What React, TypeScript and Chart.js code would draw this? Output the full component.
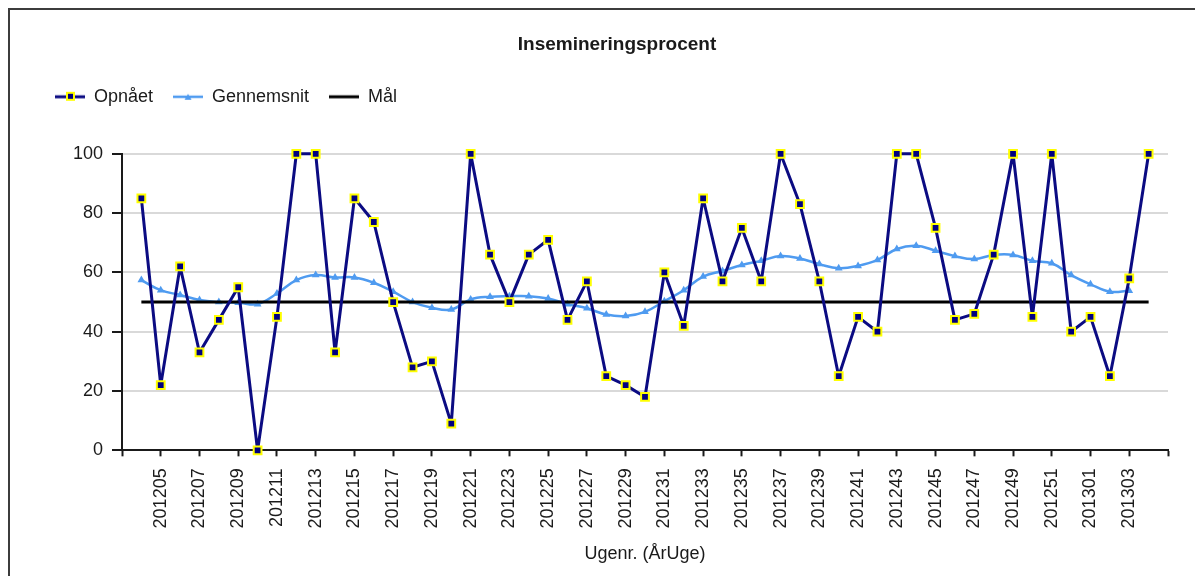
import React, { useEffect, useRef } from 'react';
import { Chart, registerables } from 'chart.js';

Chart.register(...registerables);

// ISO week codes (ÅrUge) of the plotted points
const categories = [
  '201204', '201205', '201206', '201207', '201208', '201209', '201210', '201211', '201212', '201213',
  '201214', '201215', '201216', '201217', '201218', '201219', '201220', '201221', '201222', '201223',
  '201224', '201225', '201226', '201227', '201228', '201229', '201230', '201231', '201232', '201233',
  '201234', '201235', '201236', '201237', '201238', '201239', '201240', '201241', '201242', '201243',
  '201244', '201245', '201246', '201247', '201248', '201249', '201250', '201251', '201252', '201301',
  '201302', '201303', '201304',
];

// Opnået (achieved insemination %)
const opnaaet = [
  85, 22, 62, 33, 44, 55, 0, 45, 100, 100,
  33, 85, 77, 50, 28, 30, 9, 100, 66, 50,
  66, 71, 44, 57, 25, 22, 18, 60, 42, 85,
  57, 75, 57, 100, 83, 57, 25, 45, 40, 100,
  100, 75, 44, 46, 66, 100, 45, 100, 40, 45,
  25, 58, 100,
];

// Gennemsnit (running average), last week has no value
const gennemsnit = [
  57.4, 54, 52.4, 50.7, 50, 49.8, 49.3, 52.9, 57.4, 59.1,
  58.3, 58.3, 56.5, 53.5, 50, 48.1, 47.5, 50.9, 51.8, 52,
  52, 51.2, 49.3, 47.9, 45.8, 45.3, 46.7, 50.3, 54, 58.6,
  60.5, 62.5, 63.9, 65.5, 64.7, 62.8, 61.4, 62.2, 64.2, 67.9,
  69, 67.3, 65.5, 64.5, 65.9, 65.9, 63.9, 63.1, 59.1, 56,
  53.5, 53.8,
];

// Mål (target)
const maalValue = 50;

const yTicks = [0, 20, 40, 60, 80, 100];

const titleText = 'Insemineringsprocent';
const xTitleText = 'Ugenr. (ÅrUge)';
const seriesLabels = ['Opnået', 'Gennemsnit', 'Mål'];

const FONT = '"Liberation Sans", Arial, Helvetica, sans-serif';
const NAVY = '#0b0b82';
const LIGHT = '#4f9bf0';

function makeIcon(kind: number): HTMLCanvasElement {
  const c = document.createElement('canvas');
  c.width = 30;
  c.height = 12;
  const g = c.getContext('2d')!;
  const cy = 6;
  if (kind === 0) {
    g.strokeStyle = NAVY;
    g.lineWidth = 3;
    g.beginPath();
    g.moveTo(0, cy);
    g.lineTo(30, cy);
    g.stroke();
    g.fillStyle = '#ffff00';
    g.fillRect(11, cy - 5, 9, 9);
    g.fillStyle = '#000080';
    g.fillRect(13, cy - 3, 5, 5);
  } else if (kind === 1) {
    g.strokeStyle = LIGHT;
    g.lineWidth = 2.5;
    g.beginPath();
    g.moveTo(0, cy);
    g.lineTo(30, cy);
    g.stroke();
    g.fillStyle = LIGHT;
    g.beginPath();
    g.moveTo(15, cy - 3);
    g.lineTo(18.5, cy + 3);
    g.lineTo(11.5, cy + 3);
    g.closePath();
    g.fill();
  } else {
    g.strokeStyle = '#000000';
    g.lineWidth = 3;
    g.beginPath();
    g.moveTo(0, cy);
    g.lineTo(30, cy);
    g.stroke();
  }
  return c;
}

const layoutTweaks = {
  id: 'layoutTweaks',
  afterLayout(chart: any) {
    const t = chart.titleBlock;
    if (t) {
      t.left += 15.5;
      t.right += 15.5;
    }
  },
};

export default function App() {
  const canvasRef = useRef<HTMLCanvasElement | null>(null);

  useEffect(() => {
    if (!canvasRef.current) return;
    const icons = [makeIcon(0), makeIcon(1), makeIcon(2)];

    const opnData = opnaaet.map((v, i) => ({ x: i + 1, y: v }));
    const genData = gennemsnit.map((v, i) => ({ x: i + 1, y: v }));
    const maalData = categories.map((_, i) => ({ x: i + 1, y: maalValue }));

    const chart = new Chart(canvasRef.current, {
      type: 'line',
      data: {
        datasets: [
          {
            label: seriesLabels[0],
            data: opnData,
            borderColor: NAVY,
            borderWidth: 3,
            borderJoinStyle: 'round',
            backgroundColor: '#000080',
            pointStyle: 'rect',
            pointRadius: 5.5,
            pointBackgroundColor: '#000080',
            pointBorderColor: '#ffff00',
            pointBorderWidth: 2,
            tension: 0,
            order: 0,
            clip: false,
          },
          {
            label: seriesLabels[1],
            data: genData,
            borderColor: LIGHT,
            borderWidth: 2.5,
            backgroundColor: LIGHT,
            pointStyle: 'triangle',
            pointRadius: 4.5,
            pointBackgroundColor: LIGHT,
            pointBorderColor: LIGHT,
            pointBorderWidth: 0,
            tension: 0.4,
            order: 2,
          },
          {
            label: seriesLabels[2],
            data: maalData,
            borderColor: '#000000',
            borderWidth: 3,
            pointRadius: 0,
            tension: 0,
            order: 1,
          },
        ],
      },
      options: {
        animation: false,
        responsive: false,
        devicePixelRatio: 1,
        layout: { padding: { left: 25, right: 27, top: 0, bottom: 7 } },
        plugins: {
          tooltip: { enabled: false },
          title: {
            display: true,
            text: titleText,
            color: '#1a1a1a',
            font: { family: FONT, size: 19, weight: 'bold' },
            padding: { top: 23, bottom: 12 },
          },
          subtitle: {
            display: true,
            text: '',
            weight: 500,
            font: { family: FONT, size: 10, lineHeight: 1 },
            padding: { top: 28, bottom: 0 },
          } as any,
          legend: {
            display: true,
            position: 'top',
            align: 'start',
            labels: {
              usePointStyle: true,
              pointStyleWidth: 30,
              padding: 20,
              color: '#1a1a1a',
              font: { family: FONT, size: 18 },
              generateLabels: (ch: any) =>
                ch.data.datasets.map((ds: any, i: number) => ({
                  text: ds.label,
                  pointStyle: icons[i],
                  datasetIndex: i,
                  hidden: false,
                  lineWidth: 0,
                  strokeStyle: 'transparent',
                  fillStyle: 'transparent',
                  fontColor: '#1a1a1a',
                })),
            },
          },
        },
        scales: {
          x: {
            type: 'linear',
            min: 0,
            max: categories.length + 1,
            afterFit: (s: any) => {
              s.paddingRight = 0;
            },
            ticks: {
              stepSize: 2,
              autoSkip: false,
              minRotation: 90,
              maxRotation: 90,
              padding: 12,
              color: '#1a1a1a',
              font: { family: FONT, size: 18 },
              callback: (value: any) => {
                const v = Number(value);
                const lbl = categories[v - 1];
                return v >= 2 && v <= categories.length - 1 && lbl ? lbl : '';
              },
            },
            grid: {
              display: true,
              drawOnChartArea: false,
              drawTicks: true,
              tickLength: 6,
              tickColor: '#1a1a1a',
              tickWidth: 2,
            },
            border: { display: true, color: '#1a1a1a', width: 2 },
            title: {
              display: true,
              text: xTitleText,
              color: '#1a1a1a',
              font: { family: FONT, size: 18 },
              padding: { top: 3, bottom: 4 },
            },
          },
          y: {
            type: 'linear',
            min: yTicks[0],
            max: yTicks[yTicks.length - 1],
            afterFit: (s: any) => {
              s.width = 87;
            },
            afterBuildTicks: (s: any) => {
              s.ticks = yTicks.map((v) => ({ value: v }));
            },
            ticks: {
              padding: 9,
              color: '#1a1a1a',
              font: { family: FONT, size: 18 },
            },
            grid: {
              color: (c: any) => (c.tick && c.tick.value === 0 ? 'rgba(0,0,0,0)' : '#d9d9d9'),
              lineWidth: 2,
              tickLength: 10,
              tickColor: '#1a1a1a',
              tickWidth: 2,
            },
            border: { display: true, color: '#1a1a1a', width: 2 },
          },
        },
      },
      plugins: [layoutTweaks],
    });

    return () => {
      chart.destroy();
    };
  }, []);

  return (
    <div
      style={{
        borderTop: '2px solid #3c3c3c',
        borderLeft: '2px solid #3c3c3c',
        width: 1185,
        height: 566,
        background: '#ffffff',
        overflow: 'hidden',
      }}
    >
      <canvas ref={canvasRef} width={1185} height={566} style={{ display: 'block', width: 1185, height: 566 }} />
    </div>
  );
}
